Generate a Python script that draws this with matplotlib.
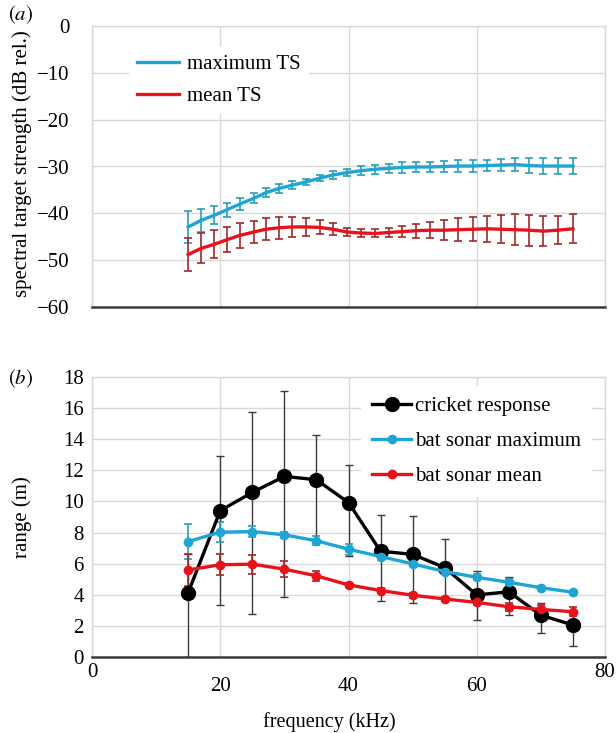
import matplotlib
matplotlib.use("Agg")
import matplotlib.pyplot as plt
import numpy as np

plt.rcParams['font.family'] = ['Liberation Serif', 'DejaVu Serif']
plt.rcParams['mathtext.fontset'] = 'stix'

# ---------------- Panel (a) data ----------------
freq_a = [15.0, 17.0, 19.1, 21.1, 23.1, 25.2, 27.1, 29.1, 31.2, 33.3, 35.5, 37.6,
          39.8, 41.9, 44.1, 46.3, 48.4, 50.6, 52.7, 54.9, 57.1, 59.4, 61.6, 63.8,
          66.0, 68.2, 70.4, 72.6, 75.0]
max_ts = [-42.9, -41.5, -40.4, -39.2, -38.0, -36.8, -35.6, -34.7, -34.0, -33.3, -32.5, -31.8,
          -31.3, -30.9, -30.6, -30.4, -30.2, -30.1, -30.1, -30.0, -29.9, -29.9, -29.8, -29.7,
          -29.6, -29.8, -29.9, -29.9, -29.9]
max_ts_err = [3.4, 2.5, 1.9, 1.5, 1.3, 1.1, 1.0, 0.9, 0.8, 0.7, 0.7, 0.8,
              0.8, 0.9, 1.0, 1.0, 1.1, 1.1, 1.1, 1.2, 1.2, 1.2, 1.2, 1.3,
              1.4, 1.6, 1.7, 1.8, 1.8]
mean_ts = [-48.8, -47.5, -46.6, -45.6, -44.7, -44.0, -43.4, -43.1, -42.9, -42.9, -43.0, -43.4,
           -44.0, -44.2, -44.3, -44.1, -43.9, -43.7, -43.6, -43.6, -43.5, -43.4, -43.3, -43.4,
           -43.5, -43.6, -43.8, -43.6, -43.3]
mean_ts_err = [3.6, 3.2, 3.0, 2.6, 2.6, 2.4, 2.4, 2.3, 2.2, 2.0, 1.5, 1.3,
               0.9, 0.8, 0.85, 1.0, 1.25, 1.5, 1.7, 2.1, 2.4, 2.6, 2.8, 3.0,
               3.3, 3.3, 3.2, 3.0, 3.1]

# ---------------- Panel (b) data ----------------
freq_b = [15, 20, 25, 30, 35, 40, 45, 50, 55, 60, 65, 70, 75]
cricket = [4.15, 9.4, 10.57, 11.6, 11.38, 9.92, 6.8, 6.6, 5.75, 4.0, 4.2, 2.7, 2.07]
cricket_hi = [6.6, 12.88, 15.7, 17.09, 14.22, 12.3, 9.13, 9.07, 7.57, 5.55, 5.17, 3.45, 3.0]
cricket_lo = [0.0, 3.34, 2.8, 3.85, 7.3, 6.5, 3.64, 3.5, 3.8, 2.39, 2.71, 1.54, 0.74]
bat_max = [7.42, 8.02, 8.06, 7.85, 7.47, 6.93, 6.46, 5.99, 5.5, 5.13, 4.81, 4.46, 4.17]
bat_max_err = [1.15, 0.63, 0.33, 0.2, 0.3, 0.35, 0.2, 0.15, 0.15, 0.2, 0.2, 0.1, 0.1]
bat_mean = [5.6, 5.93, 5.97, 5.65, 5.22, 4.64, 4.28, 3.98, 3.74, 3.52, 3.24, 3.07, 2.92]
bat_mean_err = [1.0, 0.67, 0.6, 0.5, 0.32, 0.12, 0.15, 0.15, 0.15, 0.15, 0.25, 0.3, 0.3]

xticks_inner = [20, 40, 60]
xticks_outer = [0, 80]

BLUE = '#1ea5d6'
RED = '#e8121b'
BLUE_ERR = '#2a9fb2'
RED_ERR = '#9e2a2a'
GRID = '#d9d9d9'
FS = 15

W, H = 616, 733
fig = plt.figure(figsize=(W / 100, H / 100), dpi=100)

def px_axes(l, r, t, b):
    return fig.add_axes([l / W, 1 - b / H, (r - l) / W, (b - t) / H])

def style(ax, ypad):
    ax.set_xlim(0, 80)
    ax.set_xticks(xticks_inner, labels=[str(v) for v in xticks_inner])
    ax.set_xticks(xticks_outer, labels=[str(v) for v in xticks_outer], minor=True)
    ax.grid(True, which='both', color=GRID, linewidth=1.0)
    ax.set_axisbelow(True)
    for s in ['left', 'top', 'right']:
        ax.spines[s].set_color(GRID)
        ax.spines[s].set_linewidth(1.0)
    ax.spines['bottom'].set_color('#3a3a3a')
    ax.spines['bottom'].set_linewidth(1.8)
    ax.tick_params(which='both', length=0, labelsize=FS)
    ax.tick_params(axis='y', pad=ypad)
    ax.tick_params(axis='x', which='major', pad=14)
    ax.tick_params(axis='x', which='minor', pad=4)

# ---------- Panel a ----------
axa = px_axes(92, 605, 26, 307)
style(axa, ypad=16)
axa.set_ylim(-60, 0)
axa.set_yticks([0, -10, -20, -30, -40, -50, -60])
axa.tick_params(axis='x', which='both', labelbottom=False)
axa.errorbar(freq_a, max_ts, yerr=max_ts_err, fmt='none', ecolor=BLUE_ERR,
             elinewidth=1.2, capsize=3, capthick=1.2, zorder=2)
axa.errorbar(freq_a, mean_ts, yerr=mean_ts_err, fmt='none', ecolor=RED_ERR,
             elinewidth=1.2, capsize=3, capthick=1.2, zorder=2)
axa.plot(freq_a, max_ts, color=BLUE, linewidth=2.4, label='maximum TS', zorder=3)
axa.plot(freq_a, mean_ts, color=RED, linewidth=2.4, label='mean TS', zorder=3)
axa.set_ylabel('spectral target strength (dB rel.)', fontsize=15)
axa.yaxis.set_label_coords((32 - 92) / 513, (307 - 164) / 281)
leg = axa.legend(loc='upper left', bbox_to_anchor=(0.072, 0.927), frameon=True,
                 fontsize=FS, handlelength=2.0, handletextpad=0.4, labelspacing=0.57,
                 borderaxespad=0, borderpad=0.4, fancybox=False)
leg.get_frame().set_edgecolor('none')
leg.get_frame().set_facecolor('white')
leg.get_frame().set_alpha(1)
fig.text(8 / W, 1 - 15 / H, r'$(a)$', fontsize=FS, va='center', ha='left')

# ---------- Panel b ----------
axb = px_axes(92, 605, 376.5, 657.3)
style(axb, ypad=6)
axb.set_ylim(0, 18)
axb.set_yticks(np.arange(0, 19, 2))
c = np.array(cricket)
yerr_c = [c - np.array(cricket_lo), np.array(cricket_hi) - c]
axb.errorbar(freq_b, cricket, yerr=yerr_c, fmt='none', ecolor='#3a3a3a',
             elinewidth=1.0, capsize=3, capthick=1.0, zorder=2)
axb.errorbar(freq_b, bat_max, yerr=bat_max_err, fmt='none', ecolor=BLUE_ERR,
             elinewidth=1.2, capsize=3, capthick=1.2, zorder=2)
axb.errorbar(freq_b, bat_mean, yerr=bat_mean_err, fmt='none', ecolor=RED_ERR,
             elinewidth=1.2, capsize=3, capthick=1.2, zorder=2)
axb.plot(freq_b, cricket, color='black', linewidth=2.4, marker='o', markersize=10,
         label='cricket response', zorder=3)
axb.plot(freq_b, bat_max, color=BLUE, linewidth=2.4, marker='o', markersize=6,
         label='bat sonar maximum', zorder=4)
axb.plot(freq_b, bat_mean, color=RED, linewidth=2.4, marker='o', markersize=6,
         label='bat sonar mean', zorder=5)
axb.set_ylabel('range (m)', fontsize=FS)
axb.yaxis.set_label_coords((32 - 92) / 513, 0.5)
axb.set_xlabel('frequency (kHz)', fontsize=14.5)
axb.xaxis.set_label_coords((329 - 92) / 513, (657.3 - 712) / 280.8)
legb = axb.legend(loc='upper left', bbox_to_anchor=(0.525, 0.965), frameon=True,
                  fontsize=FS, handlelength=1.9, handletextpad=0.2, labelspacing=0.74,
                  borderaxespad=0, borderpad=0.5, fancybox=False)
legb.get_frame().set_edgecolor('none')
legb.get_frame().set_facecolor('white')
legb.get_frame().set_alpha(1)
fig.text(8 / W, 1 - 379 / H, r'$(b)$', fontsize=FS, va='center', ha='left')

fig.savefig('out.png', dpi=100)
